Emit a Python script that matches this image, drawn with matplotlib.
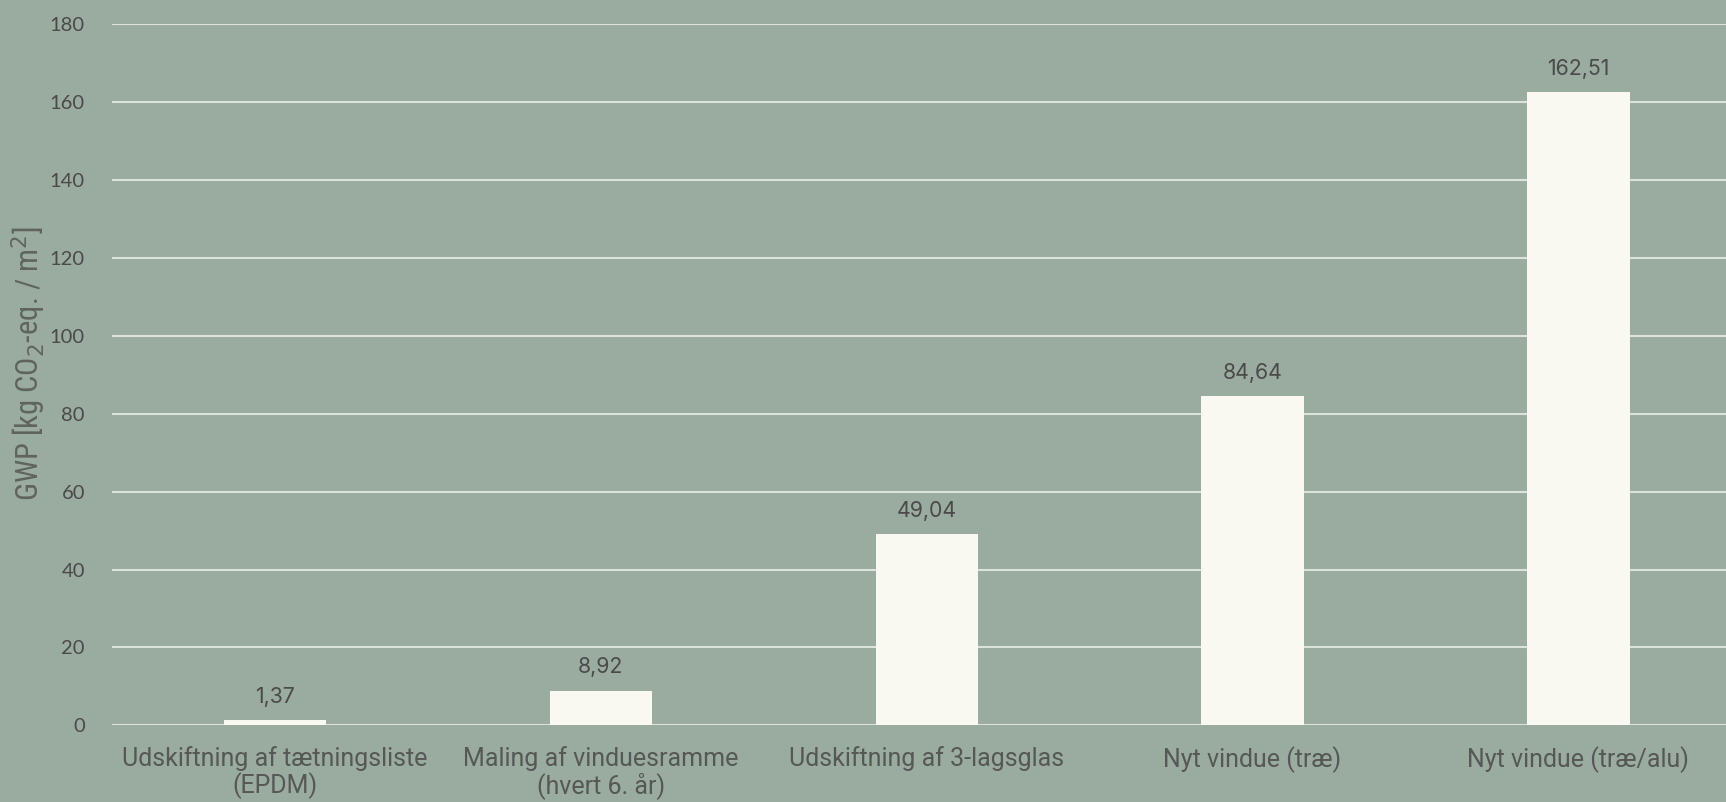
import matplotlib
matplotlib.use("Agg")
import matplotlib.pyplot as plt
from matplotlib import font_manager

categories = ["Udskiftning af tætningsliste\n(EPDM)",
              "Maling af vinduesramme\n(hvert 6. år)",
              "Udskiftning af 3-lagsglas",
              "Nyt vindue (træ)",
              "Nyt vindue (træ/alu)"]
values = [1.37, 8.92, 49.04, 84.64, 162.51]
value_labels = ["1,37", "8,92", "49,04", "84,64", "162,51"]
yticks = [0, 20, 40, 60, 80, 100, 120, 140, 160, 180]

bg = "#9AABA0"
bar_color = "#F9F9F2"
grid_color = "#DCE2DC"
text_color = "#4A4A4A"
label_color = "#555855"

names = {f.name for f in font_manager.fontManager.ttflist}
narrow = "Roboto Condensed" if "Roboto Condensed" in names else (
    "Liberation Sans Narrow" if "Liberation Sans Narrow" in names else "Roboto")

fig = plt.figure(figsize=(17.26, 8.02), dpi=100, facecolor=bg)
ax = fig.add_axes([0.0649, 0.0955, 0.9351, 0.8743])
ax.set_facecolor(bg)

x = list(range(len(values)))
ax.bar(x, values, width=0.314, color=bar_color, zorder=3)
ax.set_xlim(-0.5, 4.453)
ax.set_ylim(0, 180)
ax.set_yticks(yticks)
ax.set_yticklabels([str(t) for t in yticks], fontsize=14.5, color=text_color, family="Lato")
ax.yaxis.grid(True, color=grid_color, linewidth=1.5, zorder=0)
ax.set_axisbelow(True)
ax.tick_params(axis="y", length=0, pad=19.5)
ax.tick_params(axis="x", length=0, pad=15)
ax.set_xticks(x)
ax.set_xticklabels(categories, fontsize=18, color=label_color, family="Roboto",
                   fontweight="normal", linespacing=1.05)
for s in ax.spines.values():
    s.set_visible(False)

for xi, v, lab in zip(x, values, value_labels):
    ax.annotate(lab, (xi, v), xytext=(0, 9.5), textcoords="offset points",
                ha="center", va="bottom", fontsize=15.3, color=text_color, family="Inter")

fig.text(0.0165, 0.547, "GWP [kg CO$_2$-eq. / m$^2$]", rotation=90, ha="center", va="center",
         fontsize=22, color="#5F645F", family=narrow, fontweight="normal")

fig.savefig("out.png", dpi=100, facecolor=bg)
